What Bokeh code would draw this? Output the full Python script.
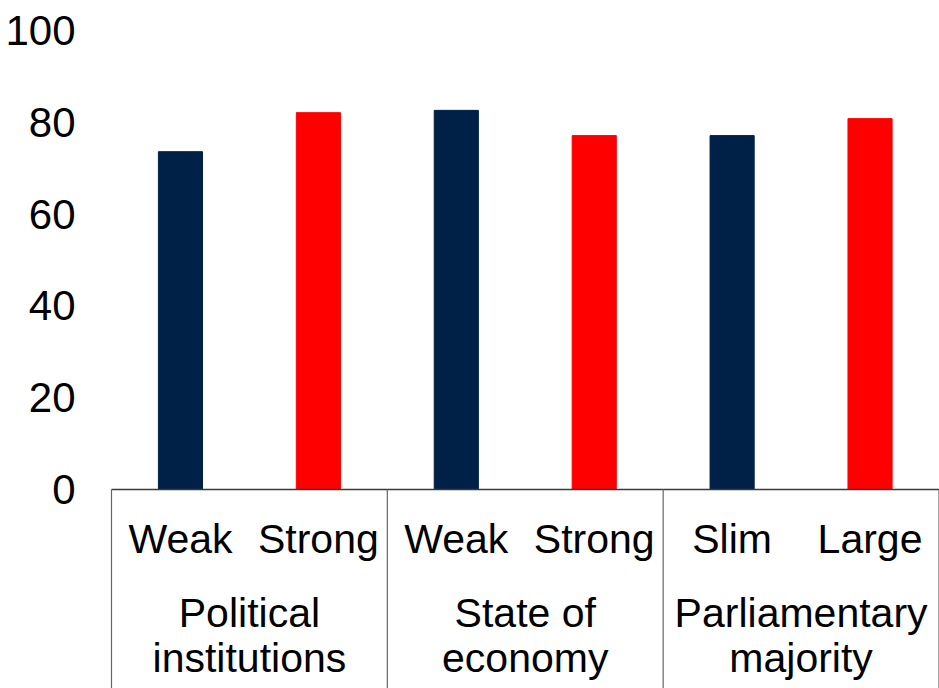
from bokeh.plotting import figure
from bokeh.models import Range1d, FixedTicker, ColumnDataSource
from bokeh.core.properties import value
from bokeh.embed import file_html
from bokeh.resources import INLINE

# Data
groups = ["Political\ninstitutions", "State of\neconomy", "Parliamentary\nmajority"]
subgroups = ["Weak", "Strong", "Weak", "Strong", "Slim", "Large"]
values = [73.6, 82.1, 82.6, 77.1, 77.1, 80.8]
colors = ["#002147", "#ff0000", "#002147", "#ff0000", "#002147", "#ff0000"]
y_ticks = [0, 20, 40, 60, 80, 100]

FONT = "Liberation Sans"

n = len(subgroups)
px_per_y = 4.59
W, H = 939, 688
left = 105
frame_w = W - left
px_per_x = 827.5 / n

x_start = -(111 - left) / px_per_x
x_end = x_start + frame_w / px_per_x
y_top = 100 + 30 / px_per_y
y_bot = -(H - 489) / px_per_y

p = figure(width=W, height=H, output_backend="svg", toolbar_location=None,
           x_range=Range1d(x_start, x_end), y_range=Range1d(y_bot, y_top),
           min_border_left=left, min_border_right=0, min_border_top=0,
           min_border_bottom=0)
p.outline_line_color = None
p.grid.visible = False
p.xaxis.visible = False

ya = p.yaxis[0]
ya.ticker = FixedTicker(ticks=y_ticks)
ya.axis_line_color = None
ya.major_tick_line_color = None
ya.minor_tick_line_color = None
ya.major_tick_out = 0
ya.major_tick_in = 0
ya.minor_tick_out = 0
ya.major_label_text_font = FONT
ya.major_label_text_font_size = "42px"
ya.major_label_text_color = "#000000"
ya.major_label_standoff = 30

xs = [i + 0.5 for i in range(n)]
src = ColumnDataSource(dict(x=xs, top=values, color=colors, label=subgroups))
p.vbar(x="x", top="top", bottom=0, width=0.32, color="color", source=src)

# baseline and group separators
p.segment(x0=[0], y0=[0], x1=[n], y1=[0], line_color="#3a3a3a", line_width=1.3)
sep_x = [2 * g for g in range(len(groups) + 1)]
p.segment(x0=sep_x, y0=[0] * len(sep_x), x1=sep_x, y1=[y_bot] * len(sep_x),
          line_color="#666666", line_width=1.2)

# category labels (pixel offsets below the baseline)
def below(px):
    return -px / px_per_y

txt = dict(text_font=value(FONT), text_font_size="41px", text_align="center",
           text_baseline="alphabetic", text_color="#000000")

p.text(x="x", y=below(553 - 489 - 15), text="label", source=src, **txt)

gx = [2 * g + 1 for g in range(len(groups))]
line1 = [g.split("\n")[0] for g in groups]
line2 = [g.split("\n")[1] for g in groups]
p.text(x=gx, y=[below(628 - 489 - 16)] * len(gx), text=line1, **txt)
p.text(x=gx, y=[below(673 - 489 - 16)] * len(gx), text=line2, **txt)

open("out.html", "w").write(file_html(p, INLINE))
